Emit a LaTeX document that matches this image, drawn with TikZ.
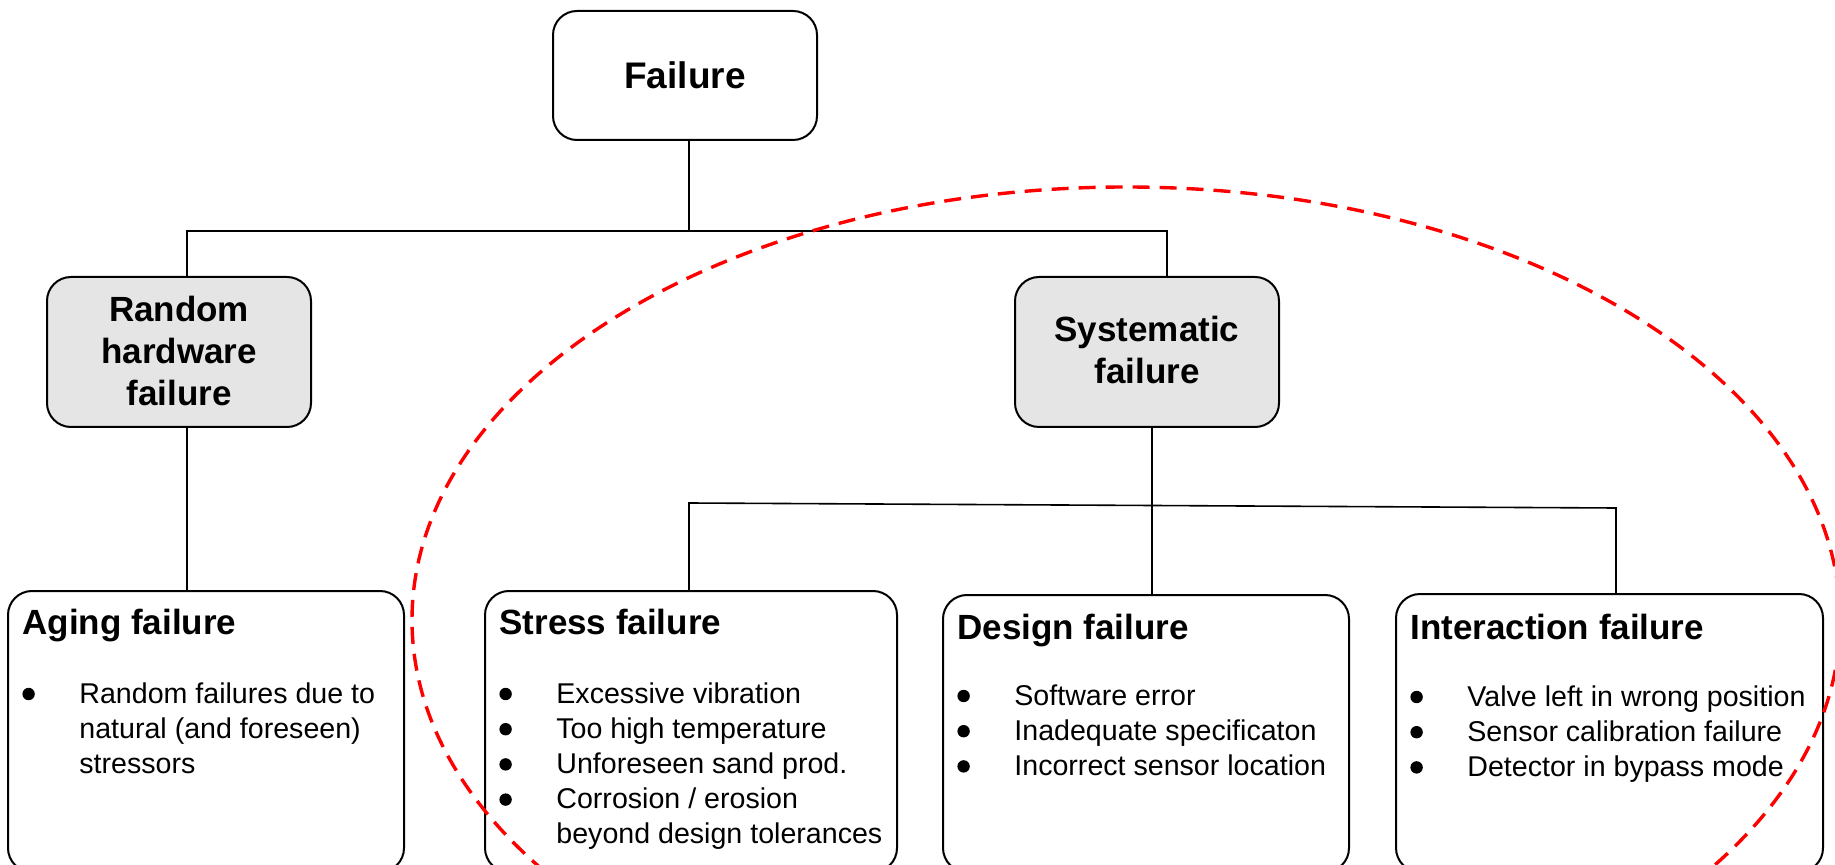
\documentclass[tikz,border=0pt]{standalone}
\usepackage{fontspec}
\setmainfont{Liberation Sans}
\usetikzlibrary{fit}
\tikzset{
  box/.style={draw, line width=1pt, rounded corners=12pt, inner sep=0pt, fill=white},
  graybox/.style={box, fill=black!10},
  conn/.style={line width=0.8pt},
  title/.style={inner sep=0pt, align=center, font=\fontsize{17.5}{21}\selectfont\bfseries},
  btitle/.style={inner sep=0pt, anchor=base west, font=\fontsize{17.5}{20.5}\selectfont\bfseries},
  blist/.style={inner sep=0pt, anchor=base west, font=\fontsize{14.3}{17.6}\selectfont},
  ring/.style={draw=red, line width=1.7pt, dash pattern=on 8.5pt off 5pt},
}
\newcommand{\bul}{\makebox[28.5pt][l]{\tikz[baseline=0pt]\fill (3.5pt,4.5pt) circle[radius=3.1pt];}}
\newcommand{\nobul}{\makebox[28.5pt][l]{}}
\begin{document}
\begin{tikzpicture}[x=0.5pt, y=-0.5pt]
\useasboundingbox (0,0) rectangle (1835,865);
\clip (0,0) rectangle (1835,865);

% boxes
\node[box, fit={(553,11) (817,140)}] (fail) {};
\node[graybox, fit={(47,277) (311,427)}] (rand) {};
\node[graybox, fit={(1015,277) (1279,427)}] (sys) {};
\node[box, fit={(8,591) (404,872)}] (aging) {};
\node[box, fit={(485,591) (897,872)}] (stress) {};
\node[box, fit={(943,595) (1349,872)}] (design) {};
\node[box, fit={(1396,594) (1823,872)}] (inter) {};

% titles
\node[title, font=\fontsize{18.5}{22}\selectfont\bfseries] (failT) at (fail.center) {Failure};
\node[title] (randT) at ([yshift=0.3pt]rand.center) {Random\\hardware\\failure};
\node[title] (sysT) at ([yshift=1pt]sys.center) {Systematic\\failure};

\node[btitle] (agingT) at (22,634) {Aging failure};
\node[btitle] (stressT) at (499,634) {Stress failure};
\node[btitle] (designT) at (957,639) {Design failure};
\node[btitle] (interT) at (1410,639) {Interaction failure};

% lists
\node[blist] (agingL) at (22,703) {\begin{tabular}[t]{@{}l@{}}
\bul Random failures due to\\
\nobul natural (and foreseen)\\
\nobul stressors
\end{tabular}};
\node[blist] (stressL) at (499,703) {\begin{tabular}[t]{@{}l@{}}
\bul Excessive vibration\\
\bul Too high temperature\\
\bul Unforeseen sand prod.\\
\bul Corrosion / erosion\\
\nobul beyond design tolerances
\end{tabular}};
\node[blist] (designL) at (957,705) {\begin{tabular}[t]{@{}l@{}}
\bul Software error\\
\bul Inadequate specificaton\\
\bul Incorrect sensor location
\end{tabular}};
\node[blist] (interL) at (1410,706) {\begin{tabular}[t]{@{}l@{}}
\bul Valve left in wrong position\\
\bul Sensor calibration failure\\
\bul Detector in bypass mode
\end{tabular}};

% connectors
\coordinate (j0) at (689,231);
\coordinate (bL) at (187,231);
\coordinate (bR) at (1167,231);
\coordinate (sL) at (689,503);
\coordinate (sR) at (1616,508);
\coordinate (dM) at (1152,505);
\draw[conn] (fail.south -| j0) -- (j0);
\draw[conn] (rand.north -| bL) -- (bL) -- (bR) -- (sys.north -| bR);
\draw[conn] (rand.south -| bL) -- (aging.north -| bL);
\draw[conn] (stress.north -| sL) -- (sL) -- (sR) -- (inter.north -| sR);
\draw[conn] (sys.south -| dM) -- (design.north -| dM);

% dashed ellipse
\draw[ring] (1126,620) ellipse [x radius=357pt, y radius=216.5pt];
\end{tikzpicture}
\end{document}
